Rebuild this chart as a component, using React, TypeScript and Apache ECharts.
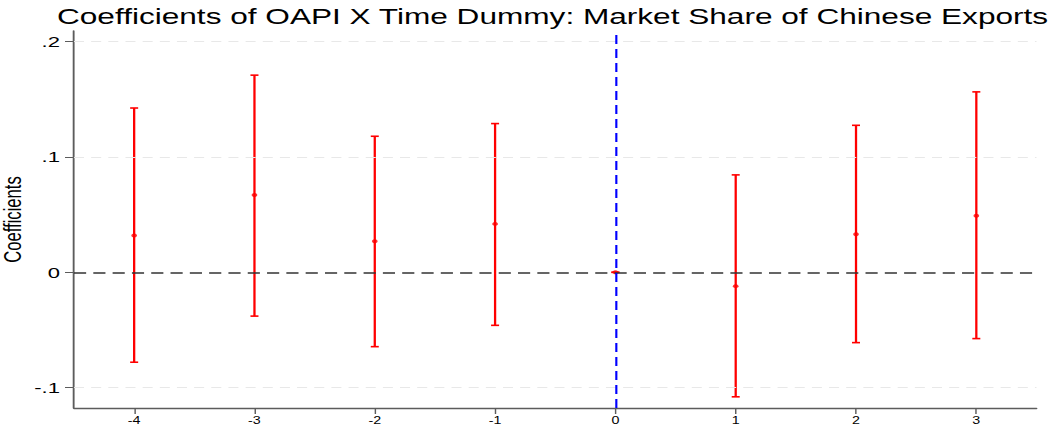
import React, { useEffect, useRef } from "react";
import * as echarts from "echarts";

// Event-time periods relative to the OAPI treatment
const periods = [-4, -3, -2, -1, 0, 1, 2, 3];
// Point estimates and 95% confidence bounds
const coef = [0.032, 0.067, 0.027, 0.042, 0, -0.012, 0.033, 0.049];
const upper = [0.1425, 0.171, 0.118, 0.129, 0, 0.0845, 0.1275, 0.1565];
const lower = [-0.078, -0.038, -0.0645, -0.046, 0, -0.108, -0.061, -0.0575];
const yTicks = [-0.1, 0, 0.1, 0.2];
const gridValues = [-0.1, 0.1, 0.2];

const TITLE = "Coefficients of OAPI X Time Dummy: Market Share of Chinese Exports";
const FONT = "'Liberation Sans', Arial, Helvetica, sans-serif";

// The graph is laid out narrower and stretched horizontally, like a Stata export
const STRETCH = 1.43;
const FULL_W = 1052;
const H = 429;
const W = FULL_W / STRETCH;

const fmtTick = (v: number) => {
  if (Math.abs(v) < 1e-9) return "0";
  const s = String(Math.abs(Math.round(v * 1000) / 1000)).replace(/^0/, "");
  return (v < 0 ? "-" : "") + s;
};

export default function App() {
  const ref = useRef<HTMLDivElement>(null);

  useEffect(() => {
    if (!ref.current) return;
    const chart = echarts.init(ref.current, undefined, { renderer: "svg" });

    const ciData = periods.map((p, i) => [p, lower[i], upper[i]]);
    const pointData = periods.map((p, i) => [p, coef[i]]);

    chart.setOption({
      animation: false,
      backgroundColor: "#ffffff",
      title: {
        text: TITLE,
        left: 57 / STRETCH,
        top: 5,
        padding: 0,
        textStyle: {
          fontFamily: FONT,
          fontSize: 22.1,
          fontWeight: "normal",
          color: "#000000",
        },
      },
      grid: {
        left: 74 / STRETCH,
        right: 16 / STRETCH,
        top: 31,
        bottom: 21,
        containLabel: false,
        outerBoundsMode: "none",
      },
      xAxis: {
        type: "value",
        min: -4.5,
        max: 3.5,
        axisLine: { show: true, onZero: false, lineStyle: { color: "#5c5c5c", width: 1.3 } },
        axisTick: {
          show: true,
          length: 6,
          customValues: periods,
          lineStyle: { color: "#5c5c5c", width: 1 },
        },
        axisLabel: {
          customValues: periods,
          margin: 8,
          fontFamily: FONT,
          fontSize: 10,
          color: "#000000",
          formatter: (v: number) => String(v),
        },
        splitLine: { show: false },
      },
      yAxis: {
        type: "value",
        min: -0.1177,
        max: 0.2093,
        name: "Coefficients",
        nameLocation: "middle",
        nameGap: 37,
        nameMoveOverlap: false,
        nameTextStyle: { fontFamily: FONT, fontSize: 16.6, lineHeight: 12, color: "#000000" },
        axisLine: { show: true, onZero: false, lineStyle: { color: "#5c5c5c", width: 1.3 } },
        axisTick: {
          show: true,
          length: 6.3,
          customValues: yTicks,
          lineStyle: { color: "#5c5c5c", width: 1 },
        },
        axisLabel: {
          customValues: yTicks,
          margin: 9.8,
          fontFamily: FONT,
          fontSize: 15.4,
          color: "#000000",
          formatter: fmtTick,
        },
        splitLine: { show: false },
      },
      series: [
        {
          // horizontal grid lines
          type: "line",
          data: [],
          z: 1,
          markLine: {
            silent: true,
            symbol: "none",
            label: { show: false },
            lineStyle: { color: "#e8e8e8", width: 1, type: [7, 5] },
            data: gridValues.map((v) => ({ yAxis: v })),
          },
        },
        {
          // reference lines: zero effect and treatment period
          type: "line",
          data: [],
          z: 2,
          markLine: {
            silent: true,
            symbol: "none",
            label: { show: false },
            data: [
              {
                yAxis: 0,
                lineStyle: { color: "#333333", width: 1.6, type: [8.5, 5] },
              },
              {
                xAxis: 0,
                lineStyle: { color: "#0000ff", width: 1.5, type: [9, 5] },
              },
            ],
          },
        },
        {
          // confidence-interval whiskers with caps
          type: "custom",
          z: 3,
          data: ciData,
          renderItem: (_params: any, api: any) => {
            const x = api.value(0);
            const lo = api.coord([x, api.value(1)]);
            const hi = api.coord([x, api.value(2)]);
            const cap = 2.8;
            const style = { stroke: "#ff0000", lineWidth: 1.6 };
            return {
              type: "group",
              children: [
                { type: "line", shape: { x1: lo[0], y1: lo[1], x2: hi[0], y2: hi[1] }, style },
                { type: "line", shape: { x1: hi[0] - cap, y1: hi[1], x2: hi[0] + cap, y2: hi[1] }, style },
                { type: "line", shape: { x1: lo[0] - cap, y1: lo[1], x2: lo[0] + cap, y2: lo[1] }, style },
              ],
            };
          },
        },
        {
          // point estimates
          type: "scatter",
          z: 4,
          symbol: "circle",
          symbolSize: 4,
          itemStyle: { color: "#ff0000" },
          data: pointData,
        },
      ],
    });

    return () => chart.dispose();
  }, []);

  return (
    <div
      ref={ref}
      style={{
        position: "fixed",
        left: 0,
        top: 0,
        width: W + "px",
        height: H + "px",
        transform: `scaleX(${STRETCH})`,
        transformOrigin: "0 0",
        background: "#ffffff",
      }}
    />
  );
}
